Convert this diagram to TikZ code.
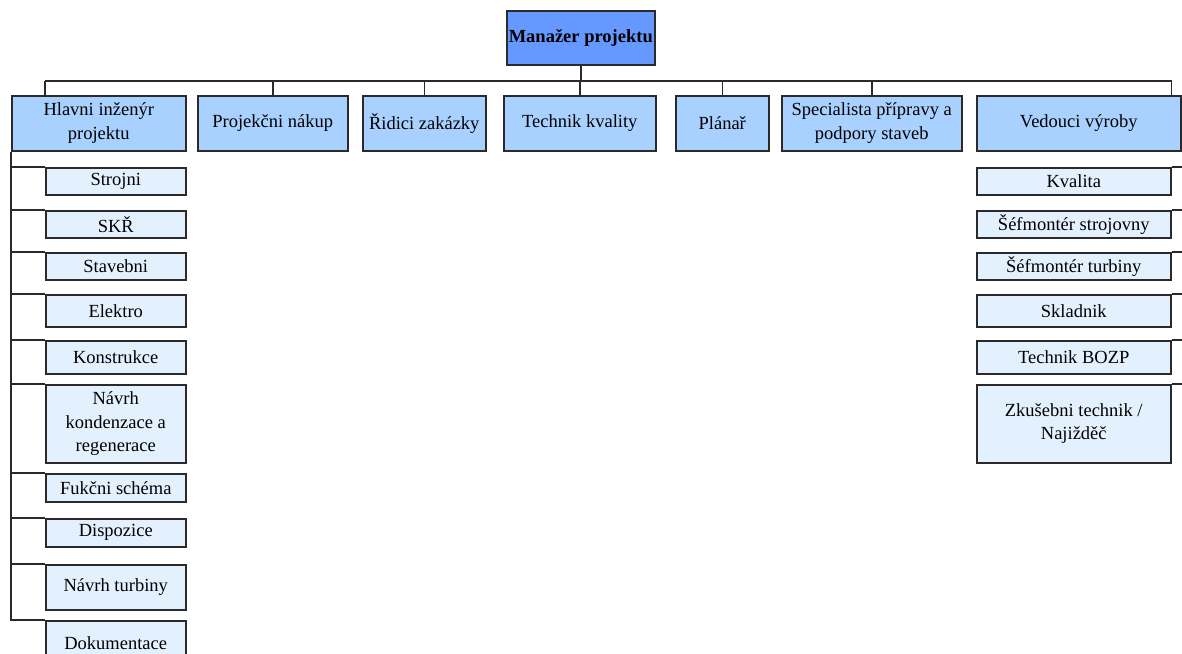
\documentclass[tikz,border=0pt]{standalone}
\usepackage{fontspec}
\setmainfont{Liberation Serif}
\definecolor{mgrblue}{HTML}{6699FF}
\definecolor{unitblue}{HTML}{A9D1FF}
\definecolor{subblue}{HTML}{E3F1FF}
\definecolor{edgegray}{HTML}{2A2A2A}

\begin{document}
\begin{tikzpicture}[
    x=1pt, y=-1pt,
    box/.style={draw=edgegray, line width=1.5pt, anchor=north west, align=center, inner sep=2pt, font=\fontsize{18.5}{23.5}\selectfont},
    boss/.style={box, fill=mgrblue, font=\fontsize{18.5}{23.5}\selectfont\bfseries},
    unit/.style={box, fill=unitblue},
    sub/.style={box, fill=subblue},
    link/.style={draw=edgegray, line width=1.5pt}
]
\useasboundingbox (0,0) rectangle (1182,653);

% top
\node[boss, minimum width=146pt, minimum height=54pt] (mgr) at (506,10) {Manažer projektu};

% second row
\node[unit, minimum width=174pt, minimum height=55pt] (hlavni) at (11,95) {Hlavni inženýr\\projektu};
\node[unit, minimum width=150pt, minimum height=55pt] (nakup) at (197,95) {Projekčni nákup};
\node[unit, minimum width=123pt, minimum height=55pt] (ridici) at (362,95) {Řidici zakázky};
\node[unit, minimum width=152pt, minimum height=55pt] (kvalita) at (503,95) {Technik kvality};
\node[unit, minimum width=93pt, minimum height=55pt] (planar) at (675,95) {Plánař};
\node[unit, minimum width=180pt, minimum height=55pt] (stavby) at (781,95) {Specialista přípravy a\\podpory staveb};
\node[unit, minimum width=204pt, minimum height=55pt] (vyroba) at (976,95) {Vedouci výroby};

% under the chief engineer
\node[sub, minimum width=140pt, minimum height=27pt] (strojni) at (45,167) {Strojni};
\node[sub, minimum width=140pt, minimum height=27pt] (skr) at (45,210) {SKŘ};
\node[sub, minimum width=140pt, minimum height=27pt] (stavebni) at (45,252) {Stavebni};
\node[sub, minimum width=140pt, minimum height=32pt] (elektro) at (45,294) {Elektro};
\node[sub, minimum width=140pt, minimum height=33pt] (konstrukce) at (45,340) {Konstrukce};
\node[sub, minimum width=140pt, minimum height=78pt] (kondenzace) at (45,384) {Návrh\\kondenzace a\\regenerace};
\node[sub, minimum width=140pt, minimum height=28pt] (schema) at (45,473) {Fukčni schéma};
\node[sub, minimum width=140pt, minimum height=28pt] (dispozice) at (45,518) {Dispozice};
\node[sub, minimum width=140pt, minimum height=45pt] (turbina) at (45,564) {Návrh turbiny};
\node[sub, minimum width=140pt, minimum height=44pt] (dokumentace) at (45,620) {Dokumentace};

% under production
\node[sub, minimum width=194pt, minimum height=27pt] (qual) at (976,167) {Kvalita};
\node[sub, minimum width=194pt, minimum height=27pt] (strojovna) at (976,210) {Šéfmontér strojovny};
\node[sub, minimum width=194pt, minimum height=27pt] (sefturbina) at (976,252) {Šéfmontér turbiny};
\node[sub, minimum width=194pt, minimum height=32pt] (skladnik) at (976,294) {Skladnik};
\node[sub, minimum width=194pt, minimum height=33pt] (bozp) at (976,340) {Technik BOZP};
\node[sub, minimum width=194pt, minimum height=78pt] (najizdec) at (976,384) {Zkušebni technik /\\Najižděč};

% connectors
\coordinate (bus) at (0,81);
\coordinate (hlavnidrop) at ([xshift=34pt]hlavni.north west);
\coordinate (vyrobadrop) at ([xshift=-10pt]vyroba.north east);
\coordinate (rspine) at (1192,150);
\draw[link] (mgr.south) -- (mgr.south |- bus);
\draw[link] (hlavnidrop |- bus) -- (vyrobadrop |- bus);
\draw[link] (hlavnidrop |- bus) -- (hlavnidrop);
\draw[link] (vyrobadrop |- bus) -- (vyrobadrop);
\foreach \u in {nakup,ridici,kvalita,planar,stavby}
    \draw[link] (\u.north |- bus) -- (\u.north);
\foreach \c in {strojni,skr,stavebni,elektro,konstrukce,kondenzace,schema,dispozice,turbina,dokumentace}
    \draw[link] (hlavni.south west) |- (\c.north west);
\foreach \c in {qual,strojovna,sefturbina,skladnik,bozp,najizdec}
    \draw[link] (\c.north east) -- (\c.north east -| rspine);
\draw[link] (rspine) -- (rspine |- najizdec.north);
\end{tikzpicture}
\end{document}
